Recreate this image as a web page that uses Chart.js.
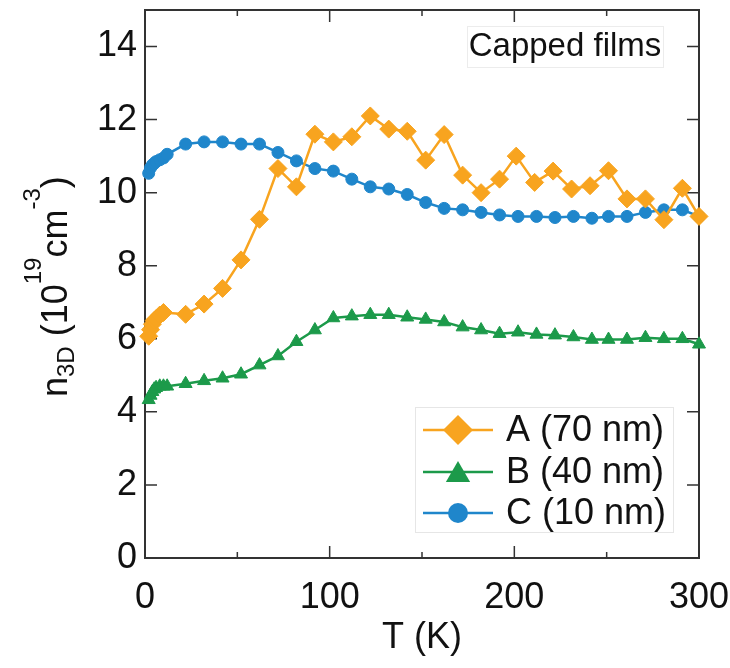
<!DOCTYPE html>
<html>
<head>
<meta charset="utf-8">
<title>n3D vs T</title>
<script src="https://cdn.jsdelivr.net/npm/chart.js@4.4.1/dist/chart.umd.min.js"></script>
<style>
    html, body { margin: 0; padding: 0; background: #fff; }
    #wrap { position: relative; width: 730px; height: 668px; }
</style>
</head>
<body>
<div id="wrap"><canvas id="nChart"></canvas></div>
<script>
// Temperatures (K) and carrier densities (10^19 cm^-3) per sample
const tempA = [2, 3, 4, 5, 6, 8, 10, 22, 32, 42, 52, 62, 72, 82, 92, 102, 112, 122, 132, 142, 152, 162, 172, 182, 192, 201, 211, 221, 231, 241, 251, 261, 271, 281, 291, 300];
const densA = [6.07, 6.25, 6.4, 6.5, 6.55, 6.65, 6.72, 6.67, 6.95, 7.38, 8.16, 9.27, 10.66, 10.16, 11.6, 11.39, 11.53, 12.1, 11.74, 11.68, 10.89, 11.59, 10.48, 10.0, 10.37, 11.0, 10.28, 10.59, 10.1, 10.19, 10.6, 9.83, 9.83, 9.26, 10.12, 9.35];

const tempB = [2, 3, 4, 5, 6, 8, 10, 12, 22, 32, 42, 52, 62, 72, 82, 92, 102, 112, 122, 132, 142, 152, 162, 172, 182, 192, 202, 212, 222, 232, 242, 251, 261, 271, 281, 291, 300];
const densB = [4.33, 4.45, 4.55, 4.62, 4.66, 4.7, 4.7, 4.7, 4.77, 4.85, 4.92, 5.03, 5.28, 5.53, 5.92, 6.24, 6.57, 6.62, 6.66, 6.66, 6.59, 6.53, 6.46, 6.32, 6.24, 6.14, 6.18, 6.12, 6.1, 6.05, 5.98, 5.98, 5.98, 6.03, 6.0, 6.0, 5.85];

const tempC = [2, 3, 4, 5, 6, 8, 10, 12, 22, 32, 42, 52, 62, 72, 82, 92, 102, 112, 122, 132, 142, 152, 162, 172, 182, 192, 202, 212, 222, 232, 242, 251, 261, 271, 281, 291, 300];
const densC = [10.53, 10.68, 10.76, 10.8, 10.85, 10.9, 10.95, 11.05, 11.33, 11.39, 11.39, 11.33, 11.33, 11.1, 10.87, 10.66, 10.59, 10.37, 10.16, 10.1, 9.95, 9.73, 9.57, 9.53, 9.46, 9.39, 9.35, 9.35, 9.32, 9.35, 9.3, 9.35, 9.35, 9.46, 9.53, 9.53, 9.35];

const seriesLabels = ['A (70 nm)', 'B (40 nm)', 'C (10 nm)'];

// Axis ticks
const xMajorTicks = [0, 100, 200, 300];
const xMinorTicks = [50, 150, 250];
const yMajorTicks = [0, 2, 4, 6, 8, 10, 12, 14];

// Colours / markers
const orange = '#F8A41F';
const green = '#1C9A4A';
const blue = '#1F86CB';
const axisColor = '#333';
const FONT = "'Liberation Sans', Arial, Helvetica, sans-serif";

const toPoints = (xs, ys) => xs.map((t, i) => ({ x: t, y: ys[i] }));

// Axis title with sub/superscripts: [text, size, baseline shift]
const yTitleParts = [
    ['n', 36, 0], ['3D', 24, 7], [' (10', 36, 0], ['19', 24, -26],
    ['cm', 36, 0], ['-3', 24, -27], [')', 36, 0]
];

// Frame and inward ticks on all four sides
const framePlugin = {
    id: 'frame',
    beforeDatasetsDraw(chart) {
        const { ctx, chartArea: a, scales: { x, y } } = chart;
        ctx.save();
        ctx.strokeStyle = axisColor;
        ctx.lineWidth = 2;
        ctx.strokeRect(a.left, a.top, a.right - a.left, a.bottom - a.top);
        ctx.lineWidth = 1.5;
        ctx.beginPath();
        const xTick = (v, len) => {
            const px = x.getPixelForValue(v);
            ctx.moveTo(px, a.bottom); ctx.lineTo(px, a.bottom - len);
            ctx.moveTo(px, a.top); ctx.lineTo(px, a.top + len);
        };
        xMajorTicks.forEach(v => xTick(v, 12));
        xMinorTicks.forEach(v => xTick(v, 6));
        yMajorTicks.forEach(v => {
            const py = y.getPixelForValue(v);
            ctx.moveTo(a.left, py); ctx.lineTo(a.left + 12, py);
            ctx.moveTo(a.right, py); ctx.lineTo(a.right - 12, py);
        });
        ctx.stroke();
        ctx.restore();
    },
    afterDraw(chart) {
        const { ctx, chartArea: a } = chart;
        ctx.save();
        ctx.fillStyle = '#111';

        // x title
        ctx.font = `36px ${FONT}`;
        ctx.textAlign = 'center';
        ctx.textBaseline = 'middle';
        ctx.fillText('T (K)', (a.left + a.right) / 2, 638);

        // y title, rotated, drawn piece by piece
        ctx.save();
        ctx.translate(67, 397);
        ctx.rotate(-Math.PI / 2);
        ctx.textAlign = 'left';
        ctx.textBaseline = 'alphabetic';
        let cx = 0;
        yTitleParts.forEach(([txt, size, shift]) => {
            ctx.font = `${size}px ${FONT}`;
            ctx.fillText(txt, cx, shift);
            cx += ctx.measureText(txt).width;
        });
        ctx.restore();

        // "Capped films" box
        ctx.fillStyle = '#fff';
        ctx.fillRect(467, 26, 196, 41);
        ctx.strokeStyle = '#ececec';
        ctx.lineWidth = 1;
        ctx.strokeRect(467.5, 26.5, 196, 41);
        ctx.fillStyle = '#111';
        ctx.font = `33px ${FONT}`;
        ctx.textAlign = 'center';
        ctx.textBaseline = 'middle';
        ctx.fillText('Capped films', 565, 47);

        // legend
        ctx.fillStyle = '#fff';
        ctx.fillRect(415, 407, 258, 125);
        ctx.strokeStyle = '#e6e6e6';
        ctx.strokeRect(415.5, 407.5, 258, 125);
        const rows = [430, 472, 513];
        chart.data.datasets.forEach((ds, i) => {
            const ly = rows[i];
            ctx.strokeStyle = ds.borderColor;
            ctx.lineWidth = 2.5;
            ctx.beginPath();
            ctx.moveTo(423, ly); ctx.lineTo(493, ly);
            ctx.stroke();
            const r = ds.pointStyle === 'rectRot' ? 15 : ds.pointStyle === 'triangle' ? 14 : 10;
            ctx.fillStyle = ds.backgroundColor;
            Chart.helpers.drawPoint(ctx, { pointStyle: ds.pointStyle, rotation: 0, borderWidth: 0, radius: r },
                458, ly + (ds.pointStyle === 'triangle' ? 3 : 0));
            ctx.fillStyle = '#111';
            ctx.font = `36px ${FONT}`;
            ctx.textAlign = 'left';
            ctx.textBaseline = 'middle';
            ctx.fillText(ds.label, 506, ly + 1);
        });
        ctx.restore();
    }
};

const makeSet = (label, xs, ys, color, style, radius) => ({
    label: label,
    data: toPoints(xs, ys),
    showLine: true,
    borderColor: color,
    backgroundColor: color,
    borderWidth: 2.5,
    pointStyle: style,
    pointRadius: radius,
    pointHoverRadius: radius,
    pointBorderWidth: 1,
    pointBackgroundColor: color,
    pointBorderColor: color,
    tension: 0,
    clip: false
});

new Chart(document.getElementById('nChart'), {
    type: 'scatter',
    data: {
        datasets: [
            makeSet(seriesLabels[0], tempA, densA, orange, 'rectRot', 9),
            makeSet(seriesLabels[1], tempB, densB, green, 'triangle', 7.5),
            makeSet(seriesLabels[2], tempC, densC, blue, 'circle', 6)
        ]
    },
    options: {
        responsive: true,
        maintainAspectRatio: false,
        animation: false,
        layout: { padding: { top: 8, right: 31, left: 0, bottom: 0 } },
        plugins: {
            legend: { display: false },
            tooltip: { enabled: false }
        },
        scales: {
            x: {
                type: 'linear',
                min: 0,
                max: 300,
                afterBuildTicks: (s) => { s.ticks = xMajorTicks.map(v => ({ value: v })); },
                afterFit: (s) => { s.height = 110; s.paddingLeft = 0; s.paddingRight = 0; },
                grid: { display: false, drawTicks: false },
                border: { display: false },
                ticks: {
                    padding: 18,
                    color: '#111',
                    font: { family: FONT, size: 36 },
                    maxRotation: 0
                }
            },
            y: {
                type: 'linear',
                min: 0,
                max: 15,
                afterBuildTicks: (s) => { s.ticks = yMajorTicks.map(v => ({ value: v })); },
                afterFit: (s) => { s.width = 145; s.paddingTop = 0; s.paddingBottom = 0; },
                grid: { display: false, drawTicks: false },
                border: { display: false },
                ticks: {
                    padding: 8,
                    color: '#111',
                    font: { family: FONT, size: 36 }
                }
            }
        }
    },
    plugins: [framePlugin]
});
</script>
</body>
</html>
